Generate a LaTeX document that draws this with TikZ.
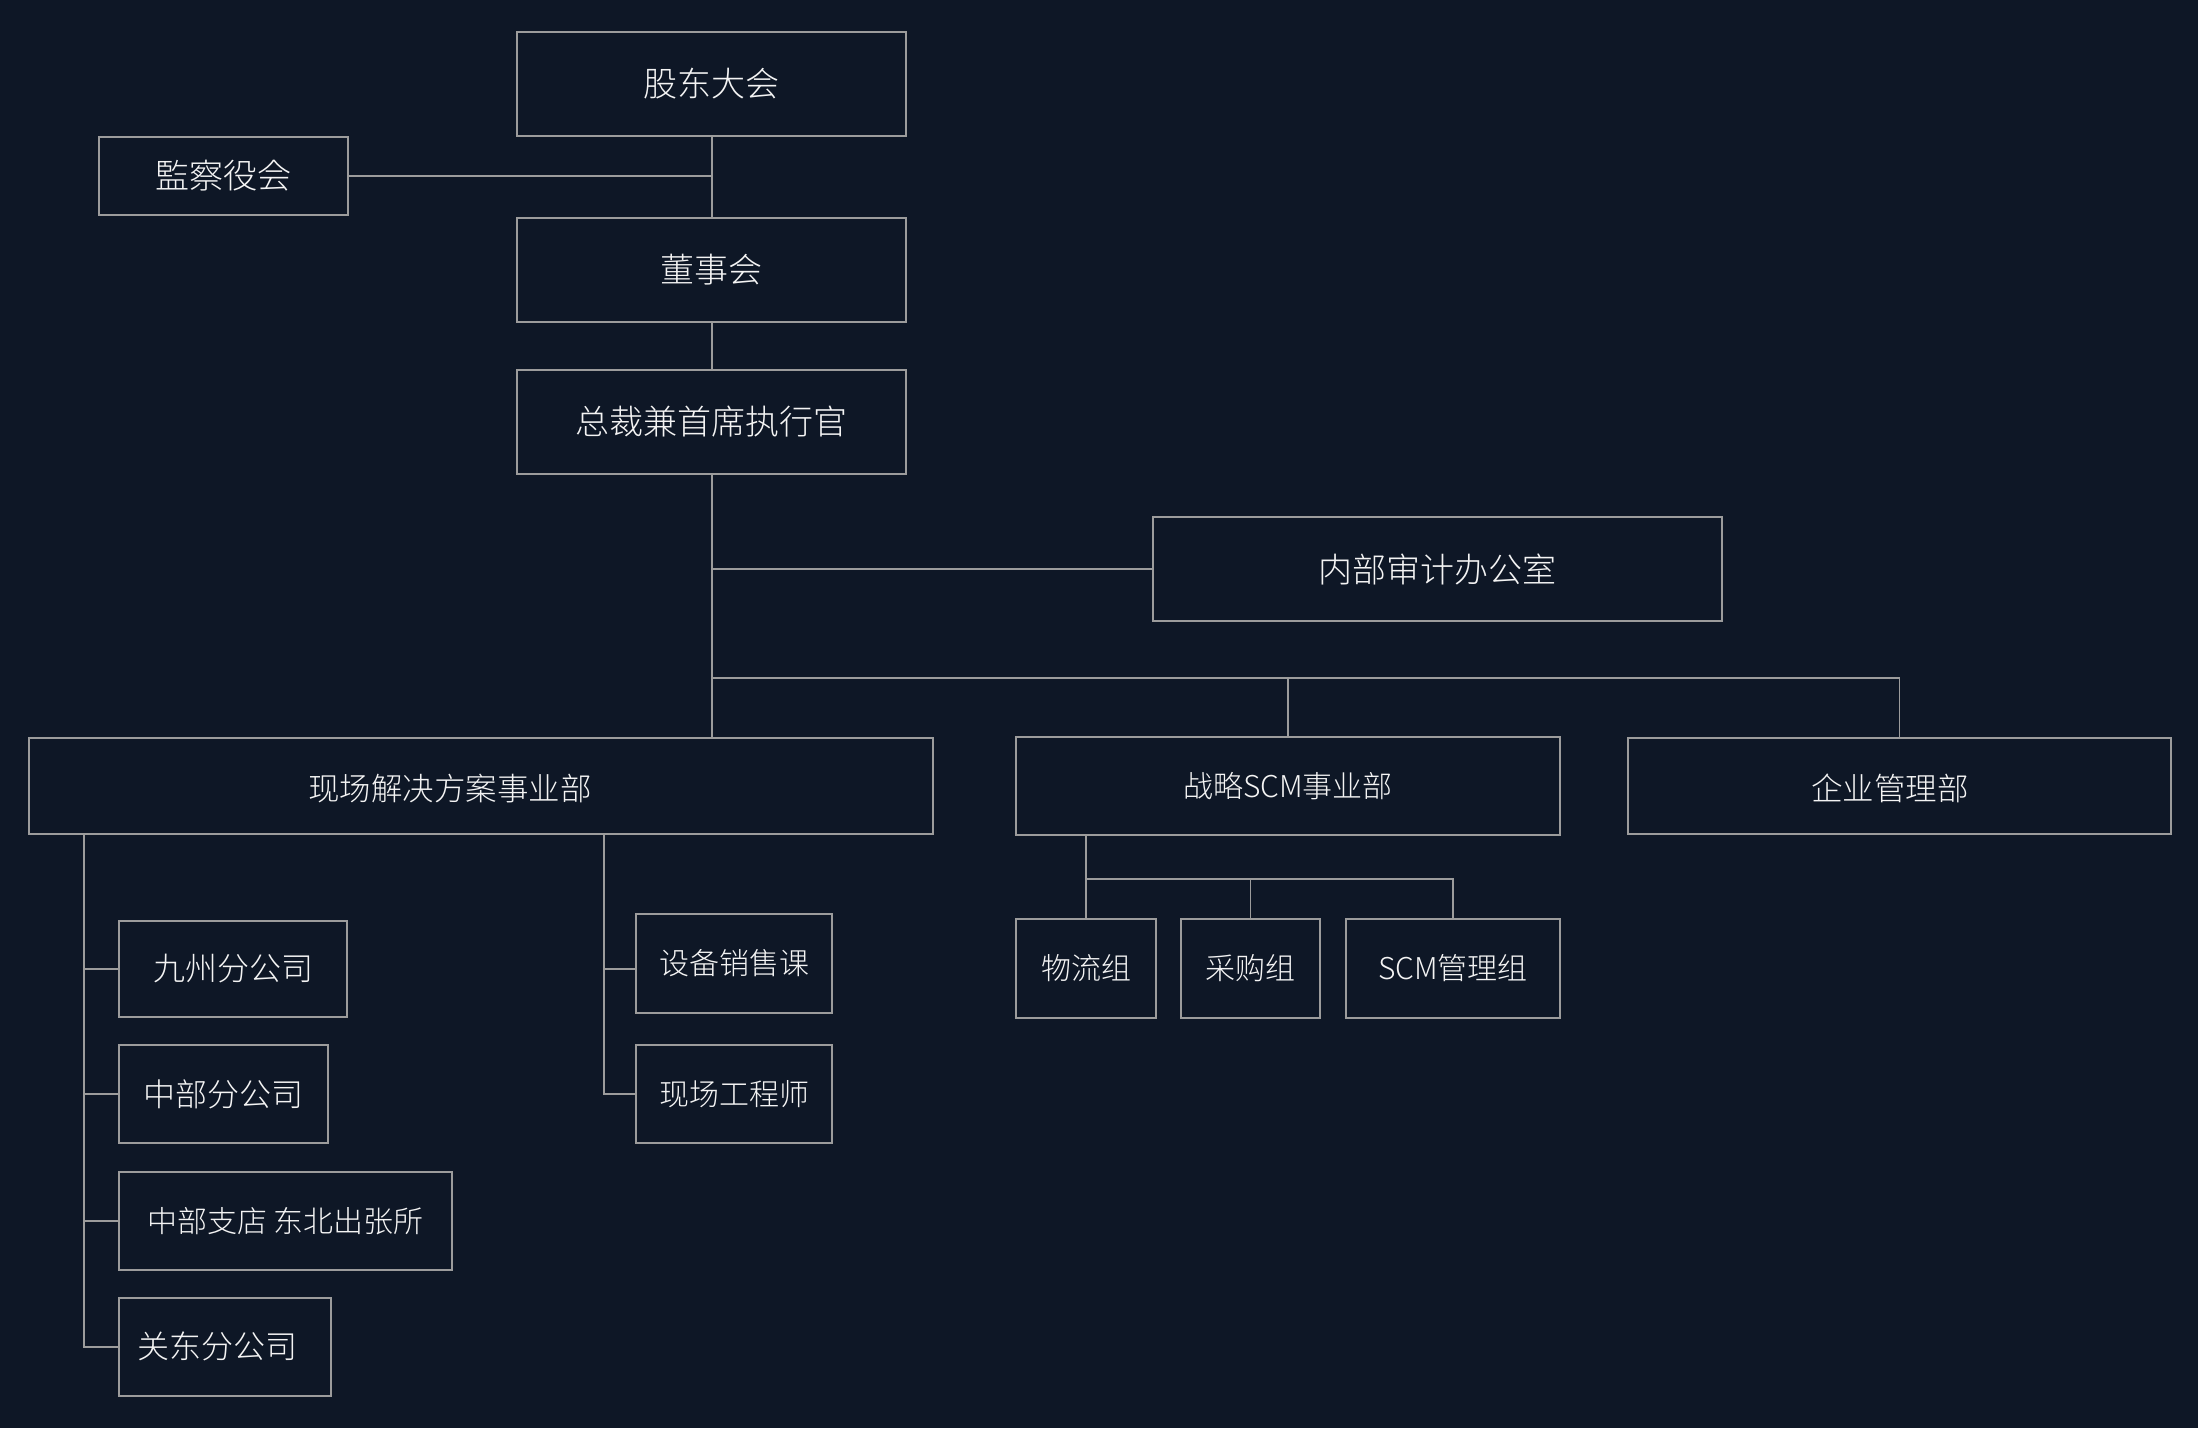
\documentclass[tikz,border=0pt]{standalone}
\usepackage{fontspec}
\setmainfont{Noto Sans CJK SC}[UprightFont={* Light}]
\newfontfamily\jpfont{Noto Sans CJK JP}[UprightFont={* Light}]
\definecolor{bgc}{HTML}{0E1726}
\definecolor{linec}{HTML}{9C9C9C}
\definecolor{txtc}{HTML}{F4F4F4}
\tikzset{
  orgbox/.style={draw=linec, line width=2pt, rectangle, inner sep=0pt, anchor=north west, text=txtc},
  conn/.style={draw=linec, line width=1.6pt},
  txtnode/.style={text=txtc, inner sep=0pt}
}
\newcommand{\fs}[1]{\fontsize{#1}{#1}\selectfont}
\begin{document}
\begin{tikzpicture}[x=1pt,y=-1pt]
\fill[bgc] (0,0) rectangle (2198,1428);
\useasboundingbox (0,0) rectangle (2198,1428);

% top chain
\node[orgbox, minimum width=389, minimum height=104, font=\fs{34}] (gd) at (516,31) {股东大会};
\node[orgbox, minimum width=249, minimum height=78, font=\jpfont\fs{34}] (jc) at (98,136) {監察役会};
\node[orgbox, minimum width=389, minimum height=104, font=\fs{34}] (dsh) at (516,217) {董事会};
\node[orgbox, minimum width=389, minimum height=104, font=\fs{34}] (ceo) at (516,369) {总裁兼首席执行官};
\node[orgbox, minimum width=569, minimum height=104, font=\fs{34}] (audit) at (1152,516) {内部审计办公室};

% divisions
\node[orgbox, minimum width=904, minimum height=96] (xc) at (28,737) {};
\node[txtnode, font=\fs{31.5}] (xct) at (450,788) {现场解决方案事业部};
\node[orgbox, minimum width=544, minimum height=98, font=\fs{30}] (scm) at (1015,736) {战略SCM事业部};
\node[orgbox, minimum width=543, minimum height=96] (qy) at (1627,737) {};
\node[txtnode, font=\fs{31.5}] (qyt) at (1890,788) {企业管理部};

% left branch
\node[orgbox, minimum width=228, minimum height=96, font=\fs{32}] (jz) at (118,920) {九州分公司};
\node[orgbox, minimum width=209, minimum height=98, font=\fs{32}] (zb) at (118,1044) {中部分公司};
\node[orgbox, minimum width=333, minimum height=98, font=\fs{30}] (zd) at (118,1171) {中部支店 东北出张所};
\node[orgbox, minimum width=212, minimum height=98] (gdo) at (118,1297) {};
\node[txtnode, font=\fs{32}] (gdot) at (217,1346) {关东分公司};

% right branch of 现场
\node[orgbox, minimum width=196, minimum height=99, font=\fs{30}] (sb) at (635,913) {设备销售课};
\node[orgbox, minimum width=196, minimum height=98, font=\fs{30}] (xg) at (635,1044) {现场工程师};

% SCM groups
\node[orgbox, minimum width=140, minimum height=99, font=\fs{30}] (wl) at (1015,918) {物流组};
\node[orgbox, minimum width=139, minimum height=99, font=\fs{30}] (cg) at (1180,918) {采购组};
\node[orgbox, minimum width=214, minimum height=99, font=\fs{30}] (sg) at (1345,918) {SCM管理组};

% coordinates
\coordinate (spine) at (712,0);
\coordinate (busA) at (712,678);
\coordinate (lsp) at (84,0);
\coordinate (rsp) at (604,0);
\coordinate (ssp) at (1086,0);
\coordinate (sbus) at (1086,879);

% connectors top
\draw[conn] (gd.south -| spine) -- (dsh.north -| spine);
\draw[conn] (jc.east) -- (jc.east -| spine);
\draw[conn] (dsh.south -| spine) -- (ceo.north -| spine);
\draw[conn] (ceo.south -| spine) -- (xc.north -| spine);
\draw[conn] (audit.west -| spine) -- (audit.west);
\draw[conn] (busA) -- (busA -| qy.north);
\draw[conn] (busA -| scm.north) -- (scm.north);
\draw[conn] (busA -| qy.north) -- (qy.north);

% left spine
\draw[conn] (xc.south -| lsp) -- (gdo.west -| lsp) -- (gdo.west);
\draw[conn] (jz.west -| lsp) -- (jz.west);
\draw[conn] (zb.west -| lsp) -- (zb.west);
\draw[conn] (zd.west -| lsp) -- (zd.west);

% right spine
\draw[conn] (xc.south -| rsp) -- (zb.west -| rsp) -- (zb.west -| xg.west);
\draw[conn] (jz.west -| rsp) -- (jz.west -| sb.west);

% SCM
\draw[conn] (scm.south -| ssp) -- (sbus) -- (sbus -| sg.north) -- (sg.north);
\draw[conn] (sbus) -- (sbus |- wl.north);
\draw[conn] (sbus -| cg.north) -- (cg.north);
\end{tikzpicture}
\end{document}
